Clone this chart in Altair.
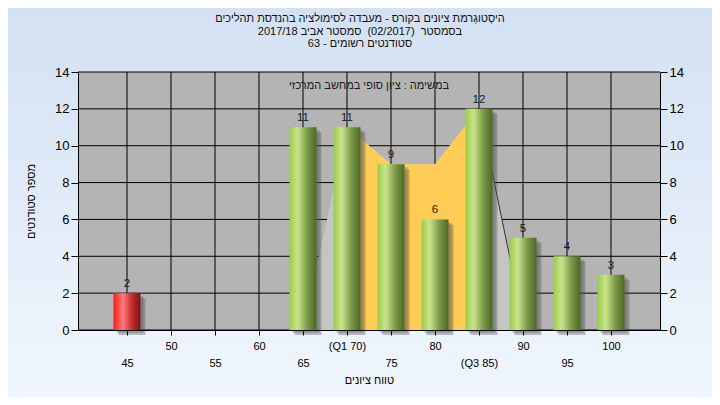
import altair as alt
import pandas as pd

# ---------------- data ----------------
grades = [45, 50, 55, 60, 65, 70, 75, 80, 85, 90, 95, 100]
counts = [2, 0, 0, 0, 11, 11, 9, 6, 12, 5, 4, 3]
kinds = ["fail", "pass", "pass", "pass", "pass", "pass", "pass", "pass", "pass", "pass", "pass", "pass"]
tick_labels = ["45", "50", "55", "60", "65", "(Q1 70)", "75", "80", "(Q3 85)", "90", "95", "100"]
y_ticks = [0, 2, 4, 6, 8, 10, 12, 14]

# distribution outline (light grey) and inter-quartile band (orange)
dist_x = [65, 70, 75, 80, 85, 90]
dist_y = [0, 11, 9, 9, 12, 0.5]
iqr_x = [70, 75, 80, 85]
iqr_y = [11, 9, 9, 12]
tail_x = [85, 90]
tail_y = [12, 0.5]

NB = "\u00a0"
title_lines = [
    "היסְטוגְרמת ציונים בקורס - מעבדה לסימולציה בהנדסת תהליכים",
    "בסמסטר" + NB * 2 + "(02/2017)" + NB * 2 + "סמסטר אביב 2017/18",
    "סטודנטים רשומים - 63",
]
note_text = "במשימה : ציון סופי במחשב המרכזי"
x_title = "טווח ציונים"
y_title = "מספר סטודנטים"

FONT = "Liberation Sans"
W, H = 582, 258
PAD = {"left": 70, "top": 64, "right": 52, "bottom": 67}

bars_df = pd.DataFrame({"grade": grades, "count": counts, "kind": kinds})
bars_df = bars_df[bars_df["count"] > 0]
dist_df = pd.DataFrame({"x": dist_x, "y": dist_y})
iqr_df = pd.DataFrame({"x": iqr_x, "y": iqr_y})
tail_df = pd.DataFrame({"x": tail_x, "y": tail_y})
vgrid_df = pd.DataFrame({"x": grades})
hgrid_df = pd.DataFrame({"y": y_ticks})

xs = alt.Scale(domain=[40, 105], nice=False, zero=False)
ys = alt.Scale(domain=[0, 14], nice=False)


def row_expr(parity):
    parts = [f"datum.value == {g} ? '{lab}'" for i, (g, lab) in enumerate(zip(grades, tick_labels)) if i % 2 == parity]
    return " : ".join(parts) + " : ''"


x_axis_row1 = alt.Axis(
    values=grades, labelExpr=row_expr(1), grid=False, tickSize=5, tickColor="black",
    domainColor="black", labelColor="black", labelFontSize=11, labelFont=FONT,
    labelPadding=5, labelOverlap=False, labelFlush=False, labelBaseline="top",
    title=None, zindex=1, orient="bottom",
)
x_axis_row2 = alt.Axis(
    values=grades, labelExpr=row_expr(0), grid=False, tickSize=5, tickOpacity=0,
    domain=False, labelColor="black", labelFontSize=11, labelFont=FONT,
    labelPadding=22, labelOverlap=False, labelFlush=False, labelBaseline="top",
    title=x_title, titleFont=FONT, titleFontSize=11, titleFontWeight="normal",
    titleColor="black", titlePadding=6, zindex=1, orient="bottom",
)
y_axis_left = alt.Axis(
    values=y_ticks, grid=False, tickSize=7, tickColor="black", domainColor="black",
    labelColor="black", labelFontSize=13, labelFont=FONT, labelPadding=2,
    title=y_title, titleFont=FONT, titleFontSize=11, titleFontWeight="normal",
    titleColor="black", titlePadding=18, orient="left", zindex=1,
)
y_axis_right = alt.Axis(
    values=y_ticks, grid=False, tickSize=7, tickColor="black", domainColor="black",
    labelColor="black", labelFontSize=13, labelFont=FONT, labelPadding=2,
    title=None, orient="right", zindex=1,
)

bg_grad = alt.Gradient(
    gradient="linear", x1=0, x2=0, y1=0, y2=1,
    stops=[alt.GradientStop(color="#D3E1F3", offset=0),
           alt.GradientStop(color="#F0F6FD", offset=1)],
)
green_grad = alt.Gradient(
    gradient="linear", x1=0, x2=1, y1=0, y2=0,
    stops=[alt.GradientStop(color="#9CCB45", offset=0),
           alt.GradientStop(color="#C9E58E", offset=0.3),
           alt.GradientStop(color="#7E9C48", offset=0.65),
           alt.GradientStop(color="#4B6724", offset=1)],
)
red_grad = alt.Gradient(
    gradient="linear", x1=0, x2=1, y1=0, y2=0,
    stops=[alt.GradientStop(color="#FF1A1A", offset=0),
           alt.GradientStop(color="#FF7C7C", offset=0.35),
           alt.GradientStop(color="#C02A2A", offset=0.7),
           alt.GradientStop(color="#7A1414", offset=1)],
)

one = alt.Data(values=[{}])

bg = alt.Chart(one).mark_rect(color=bg_grad).encode(
    x=alt.value(-PAD["left"]), x2=alt.value(W + PAD["right"]),
    y=alt.value(-PAD["top"]), y2=alt.value(H + PAD["bottom"]),
)
title_mark = alt.Chart(one).mark_text(
    font=FONT, fontSize=11, color="#111111", baseline="top", align="center", lineHeight=12.5,
).encode(x=alt.value(W / 2 - 9), y=alt.value(-PAD["top"] + 5), text=alt.value(title_lines))
plot_bg = alt.Chart(one).mark_rect(color="#B4B4B4").encode(
    x=alt.value(0), x2=alt.value(W), y=alt.value(0), y2=alt.value(H),
)
vgrid = alt.Chart(vgrid_df).mark_rule(color="black", strokeWidth=1).encode(
    x=alt.X("x:Q", scale=xs, axis=x_axis_row1),
)
hgrid = alt.Chart(hgrid_df).mark_rule(color="black", strokeWidth=1).encode(
    y=alt.Y("y:Q", scale=ys, axis=y_axis_left),
)
dist = alt.Chart(dist_df).mark_area(color="#C4C4C4", opacity=1).encode(
    x=alt.X("x:Q", scale=xs, axis=None), y=alt.Y("y:Q", scale=ys, axis=None),
)
iqr = alt.Chart(iqr_df).mark_area(color="#FFCC55", opacity=1).encode(
    x=alt.X("x:Q", scale=xs, axis=None), y=alt.Y("y:Q", scale=ys, axis=None),
)
tail = alt.Chart(tail_df).mark_line(color="#333333", strokeWidth=1).encode(
    x=alt.X("x:Q", scale=xs, axis=None), y=alt.Y("y:Q", scale=ys, axis=None),
)
shadow = alt.Chart(bars_df).mark_bar(size=27, color="#505050", opacity=0.35, xOffset=5, yOffset=5).encode(
    x=alt.X("grade:Q", scale=xs, axis=None), y=alt.Y("count:Q", scale=ys, axis=None),
)
shadow2 = alt.Chart(bars_df).mark_bar(size=27, color="#505050", opacity=0.3, xOffset=3, yOffset=3).encode(
    x=alt.X("grade:Q", scale=xs, axis=None), y=alt.Y("count:Q", scale=ys, axis=None),
)
green = alt.Chart(bars_df).transform_filter("datum.kind == 'pass'").mark_bar(size=27, color=green_grad).encode(
    x=alt.X("grade:Q", scale=xs, axis=None), y=alt.Y("count:Q", scale=ys, axis=None),
)
red = alt.Chart(bars_df).transform_filter("datum.kind == 'fail'").mark_bar(size=27, color=red_grad).encode(
    x=alt.X("grade:Q", scale=xs, axis=None), y=alt.Y("count:Q", scale=ys, axis=None),
)
labels = alt.Chart(bars_df).mark_text(font=FONT, fontSize=11.5, color="#1a1a1a", baseline="alphabetic", dy=-6).encode(
    x=alt.X("grade:Q", scale=xs, axis=None), y=alt.Y("count:Q", scale=ys, axis=None),
    text=alt.Text("count:Q"),
)
note = alt.Chart(one).mark_text(font=FONT, fontSize=11, color="#1a1a1a", baseline="middle").encode(
    x=alt.value(W / 2), y=alt.value(14), text=alt.value(note_text),
)
right_axis = alt.Chart(hgrid_df).mark_point(opacity=0).encode(
    y=alt.Y("y:Q", scale=ys, axis=y_axis_right),
)
bottom_row2 = alt.Chart(vgrid_df).mark_point(opacity=0).encode(
    x=alt.X("x:Q", scale=xs, axis=x_axis_row2),
)

chart = alt.layer(
    bg, title_mark, plot_bg, vgrid, hgrid, dist, iqr, tail, shadow, shadow2, green, red,
    labels, note, right_axis, bottom_row2,
).resolve_axis(x="independent", y="independent").properties(
    width=W, height=H,
    autosize=alt.AutoSizeParams(type="none"),
    padding=PAD,
).configure_view(stroke=None).configure_axis(zindex=1)

chart.save("out.html", embed_options={"renderer": "svg", "actions": False})
